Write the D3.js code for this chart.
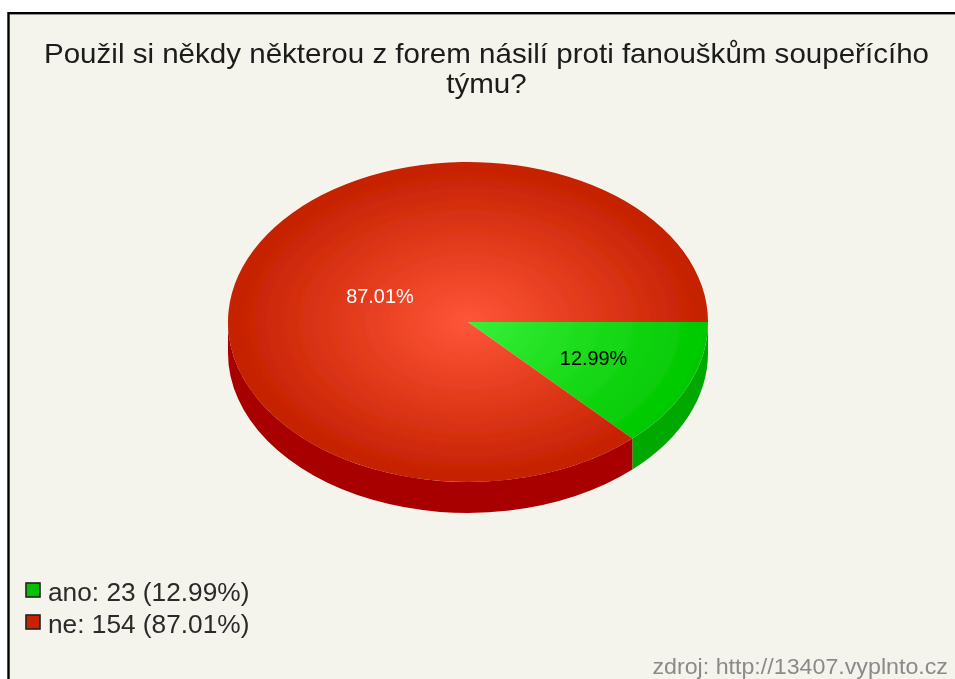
<!DOCTYPE html>
<html>
<head>
<meta charset="utf-8">
<script src="https://cdn.jsdelivr.net/npm/d3@7"></script>
<style>
  html, body { margin: 0; padding: 0; background: #fff; }
  svg { display: block; }
  text { font-family: "Liberation Sans", Arial, sans-serif; }
</style>
</head>
<body>
<div id="chart"></div>
<script>
const categories = ["ano", "ne"];
const counts = [23, 154];
const percentLabels = ["12.99%", "87.01%"];
const titleLines = ["Použil si někdy některou z forem násilí proti fanouškům soupeřícího", "týmu?"];
const sourceText = "zdroj: http://13407.vyplnto.cz";

const width = 955, height = 679;
const cx = 468, cy = 322, rx = 240, ry = 160, depth = 31;

const topInner = ["#38f038", "#ff5538"];
const topOuter = ["#00c800", "#c42000"];
const wallColor = ["#00a800", "#a80000"];
const legendColor = ["#00c000", "#c82000"];
const labelColor = ["#000", "#fff"];
const labelRadius = [0.57, 0.4];

const svg = d3.select("#chart")
  .append("svg")
    .attr("width", width)
    .attr("height", height);

const defs = svg.append("defs");
defs.append("filter").attr("id", "soft")
  .attr("x", "-5%").attr("y", "-5%").attr("width", "110%").attr("height", "110%")
  .append("feGaussianBlur").attr("stdDeviation", 0.65);

categories.forEach((c, i) => {
  const g = defs.append("radialGradient")
    .attr("id", "top-" + c)
    .attr("gradientUnits", "userSpaceOnUse")
    .attr("cx", 0).attr("cy", 0).attr("r", rx);
  g.append("stop").attr("offset", "0%").attr("stop-color", topInner[i]);
  g.append("stop").attr("offset", "100%").attr("stop-color", topOuter[i]);
});

// frame, white strip is left on top and on the left
svg.append("rect")
  .attr("x", 8.5).attr("y", 13.2)
  .attr("width", width + 20).attr("height", height + 20)
  .attr("fill", "#f4f4ec")
  .attr("stroke", "#000")
  .attr("stroke-width", 2.4);

const root = svg.append("g").attr("filter", "url(#soft)");

// the picture is a stretched bitmap, so its text runs wider than the font does
function stretch(sel, factor) {
  sel.each(function() {
    d3.select(this)
      .attr("textLength", this.getComputedTextLength() * factor)
      .attr("lengthAdjust", "spacingAndGlyphs");
  });
}

// slices start at 3 o'clock and run clockwise
const pie = d3.pie().sort(null).value(d => d).startAngle(Math.PI / 2).endAngle(Math.PI / 2 + 2 * Math.PI);
const slices = pie(counts);
const arc = d3.arc().innerRadius(0).outerRadius(rx);

const pt = a => [rx * Math.sin(a), -ry * Math.cos(a)];

// side wall of the part of a slice that faces the viewer
function wall(d) {
  const a0 = Math.max(d.startAngle, Math.PI / 2);
  const a1 = Math.min(d.endAngle, 3 * Math.PI / 2);
  if (a1 <= a0) return "";
  const [x0, y0] = pt(a0), [x1, y1] = pt(a1);
  return `M${x0},${y0}A${rx},${ry} 0 0 1 ${x1},${y1}` +
    `L${x1},${y1 + depth}A${rx},${ry} 0 0 0 ${x0},${y0 + depth}Z`;
}

const pieG = root.append("g").attr("transform", `translate(${cx},${cy})`);

pieG.selectAll(".wall")
  .data(slices)
  .enter()
  .append("path")
    .attr("class", "wall")
    .attr("d", wall)
    .attr("fill", (d, i) => wallColor[i]);

pieG.append("g")
  .attr("transform", `scale(1,${ry / rx})`)
  .selectAll(".slice")
  .data(slices)
  .enter()
  .append("path")
    .attr("class", "slice")
    .attr("d", arc)
    .attr("fill", (d, i) => `url(#top-${categories[i]})`);

pieG.selectAll(".pct")
  .data(slices)
  .enter()
  .append("text")
    .attr("class", "pct")
    .attr("text-anchor", "middle")
    .attr("font-size", 19.5)
    .attr("fill", (d, i) => labelColor[i])
    .attr("transform", (d, i) => {
      const m = (d.startAngle + d.endAngle) / 2;
      const [x, y] = pt(m);
      return `translate(${x * labelRadius[i]},${y * labelRadius[i] + 6.5})`;
    })
    .text((d, i) => percentLabels[i])
    .call(stretch, 1.02);

root.selectAll(".title")
  .data(titleLines)
  .enter()
  .append("text")
    .attr("class", "title")
    .attr("x", 486.5)
    .attr("y", (d, i) => 62.5 + i * 30.5)
    .attr("text-anchor", "middle")
    .attr("font-size", 28)
    .attr("fill", "#1a1a1a")
    .text(d => d)
    .call(stretch, 1.055);

const legend = root.selectAll(".legend")
  .data(categories)
  .enter()
  .append("g")
    .attr("class", "legend")
    .attr("transform", (d, i) => `translate(0,${591 + i * 32})`);

legend.append("rect")
  .attr("x", 26).attr("y", -8)
  .attr("width", 14).attr("height", 14)
  .attr("fill", (d, i) => legendColor[i])
  .attr("stroke", "#222")
  .attr("stroke-width", 1.6);

legend.append("text")
  .attr("x", 48).attr("y", 9.5)
  .attr("font-size", 25)
  .attr("fill", "#2a2a2a")
  .text((d, i) => `${d}: ${counts[i]} (${percentLabels[i]})`)
  .call(stretch, 1.05);

root.append("text")
  .attr("x", 948).attr("y", 674)
  .attr("text-anchor", "end")
  .attr("font-size", 21.5)
  .attr("fill", "#8a8a8a")
  .text(sourceText)
  .call(stretch, 1.08);
</script>
</body>
</html>
